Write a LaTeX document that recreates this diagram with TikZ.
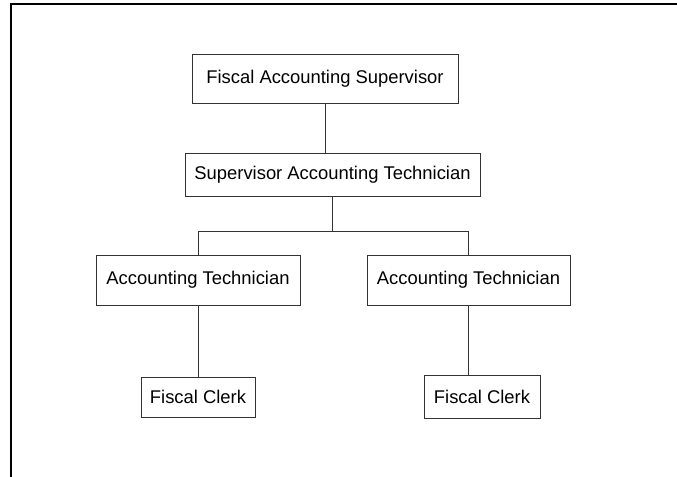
\documentclass[tikz,border=0pt]{standalone}
\usepackage{fontspec}
\setmainfont{Liberation Sans}

\tikzset{every picture/.style={line width=0.75pt}}
\tikzset{
  post/.style={draw=black!80, line width=0.6pt, inner sep=0pt, align=center,
    font=\fontsize{13.8}{16}\selectfont},
  link/.style={draw=black!80, line width=0.6pt},
  frame/.style={draw=black, line width=1.5pt}
}

\begin{document}
\begin{tikzpicture}[x=0.75pt,y=0.75pt,yscale=-1,xscale=1]
		\useasboundingbox (0,0) rectangle (677,477);
		
		%Straight Lines [id:frame] 
		\draw[frame] (11,477) -- (11,4) -- (677,4) ;
		
		%Shape: Rectangle [id:fas] 
		\node[post, minimum width=199.5pt, minimum height=36.75pt] (fas) at (325,78.5) {Fiscal Accounting Supervisor};
		%Shape: Rectangle [id:sat] 
		\node[post, minimum width=221.25pt, minimum height=32.25pt] (sat) at (332.5,174.5) {Supervisor Accounting Technician};
		%Shape: Rectangle [id:atl] 
		\node[post, minimum width=153pt, minimum height=37.5pt] (atl) at (198,280) {Accounting Technician};
		%Shape: Rectangle [id:atr] 
		\node[post, minimum width=152.25pt, minimum height=37.5pt] (atr) at (468.5,280) {Accounting Technician};
		%Shape: Rectangle [id:fcl] 
		\node[post, minimum width=85.5pt, minimum height=30pt] (fcl) at (198,397) {Fiscal Clerk};
		%Shape: Rectangle [id:fcr] 
		\node[post, minimum width=87pt, minimum height=32.25pt] (fcr) at (482,396.5) {Fiscal Clerk};
		
		\coordinate (fork) at (320,231);
		
		%Straight Lines [id:links] 
		\draw[link] (fas.south) -- (fas.south |- sat.north) ;
		\draw[link] (sat.south) -- (sat.south |- fork) ;
		\draw[link] (atl.north) -- (atl.north |- fork) -- (atr.north |- fork) -- (atr.north) ;
		\draw[link] (atl.south) -- (atl.south |- fcl.north) ;
		\draw[link] (atr.south) -- (atr.south |- fcr.north) ;
		\end{tikzpicture}
\end{document}
